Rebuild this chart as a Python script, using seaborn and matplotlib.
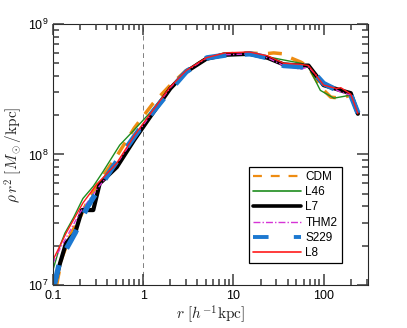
import matplotlib
matplotlib.use("Agg")
import matplotlib.pyplot as plt
import seaborn as sns
import pandas as pd


#---------- Data ----------
r_cdm = [0.11, 0.125, 0.16, 0.2, 0.25, 0.33, 0.5, 0.8, 1.28, 2.0, 3.0, 5.0, 8.0, 15.0, 22.0, 28.0, 36.0, 43.0, 56.0, 68.0, 92.0, 120.0, 155.0, 200.0, 240.0]
v_cdm = [1.0e7, 1.6e7, 2.5e7, 3.3e7, 4.6e7, 6.3e7, 9.5e7, 1.6e8, 2.45e8, 3.4e8, 4.4e8, 5.4e8, 5.9e8, 6.0e8, 5.9e8, 6.0e8, 5.9e8, 5.5e8, 5.1e8, 4.7e8, 3.3e8, 2.75e8, 2.7e8, 2.85e8, 2.08e8]

r_l46 = [0.1, 0.12, 0.136, 0.17, 0.215, 0.28, 0.36, 0.55, 0.8, 1.2, 2.0, 3.0, 5.0, 8.0, 15.0, 24.0, 36.0, 56.0, 68.0, 92.0, 130.0, 200.0, 240.0]
v_l46 = [1.3e7, 2.0e7, 2.5e7, 3.3e7, 4.6e7, 5.7e7, 7.4e7, 1.18e8, 1.55e8, 2.1e8, 3.3e8, 4.4e8, 5.5e8, 6.0e8, 6.0e8, 5.6e8, 5.3e8, 5.0e8, 4.7e8, 3.1e8, 2.7e8, 2.85e8, 2.1e8]

r_l7 = [0.1, 0.105, 0.12, 0.14, 0.176, 0.21, 0.28, 0.33, 0.51, 0.8, 1.2, 2.0, 3.0, 5.0, 8.0, 15.0, 24.0, 36.0, 56.0, 68.0, 100.0, 155.0, 200.0, 240.0]
v_l7 = [1.0e7, 1.04e7, 1.47e7, 2.1e7, 2.5e7, 3.75e7, 3.75e7, 6.0e7, 8.0e7, 1.3e8, 1.95e8, 3.2e8, 4.3e8, 5.4e8, 5.8e8, 5.9e8, 5.5e8, 4.9e8, 4.8e8, 4.8e8, 3.4e8, 3.1e8, 2.95e8, 2.05e8]

r_thm2 = [0.1, 0.12, 0.15, 0.2, 0.3, 0.5, 0.8, 1.2, 2.0, 3.0, 5.0, 8.0, 15.0, 24.0, 36.0, 56.0, 68.0, 100.0, 155.0, 200.0, 240.0]
v_thm2 = [1.47e7, 1.9e7, 2.5e7, 3.6e7, 5.3e7, 8.3e7, 1.35e8, 2.0e8, 3.25e8, 4.35e8, 5.45e8, 5.8e8, 5.9e8, 5.5e8, 4.8e8, 4.5e8, 4.7e8, 3.5e8, 3.0e8, 2.85e8, 2.08e8]

r_s229 = [0.1, 0.105, 0.12, 0.176, 0.238, 0.33, 0.46, 0.93, 1.2, 2.15, 3.0, 5.1, 8.6, 15.5, 24.0, 36.0, 56.0, 68.0, 100.0, 155.0, 200.0, 240.0]
v_s229 = [1.0e7, 1.04e7, 1.55e7, 2.5e7, 3.9e7, 5.6e7, 8.0e7, 1.59e8, 2.0e8, 3.3e8, 4.3e8, 5.5e8, 5.8e8, 5.9e8, 5.5e8, 4.8e8, 4.7e8, 4.7e8, 3.5e8, 3.0e8, 2.85e8, 2.08e8]

r_l8 = [0.1, 0.14, 0.215, 0.3, 0.51, 0.8, 1.2, 2.0, 3.0, 5.0, 8.0, 15.0, 24.0, 36.0, 56.0, 68.0, 100.0, 140.0, 155.0, 200.0, 240.0]
v_l8 = [1.55e7, 2.5e7, 4.25e7, 5.8e7, 8.6e7, 1.4e8, 2.05e8, 3.3e8, 4.4e8, 5.5e8, 6.0e8, 6.1e8, 5.7e8, 5.0e8, 4.9e8, 4.8e8, 3.4e8, 3.2e8, 3.25e8, 2.9e8, 2.05e8]

labels = ["CDM", "L46", "L7", "THM2", "S229", "L8"]
radii = [r_cdm, r_l46, r_l7, r_thm2, r_s229, r_l8]
values = [v_cdm, v_l46, v_l7, v_thm2, v_s229, v_l8]

#---------- Styles ----------
colors = ["#EE8C12", "#1E8C1E", "#000000", "#D633D6", "#1C78D0", "#FF1A1A"]
widths = [2.5, 1.0, 3.0, 1.0, 3.8, 1.0]
leg_widths = [1.6, 1.2, 2.6, 1.0, 2.8, 1.2]
dashes = [(4, 3), None, None, (4, 1.5, 1, 1.5), (4, 3.5), None]
leg_dashes = [(4, 4), None, None, (5, 1.5, 1, 1.5), (4, 6.5), None]

sns.set_style("ticks")
plt.rcParams["font.family"] = ["Liberation Sans", "DejaVu Sans"]
plt.rcParams["mathtext.fontset"] = "cm"

fig, ax = plt.subplots(figsize=(4.07, 3.28), dpi=100)
fig.subplots_adjust(left=0.130, right=0.904, bottom=0.131, top=0.927)

ax.axvline(1, color="gray", lw=0.7, ls=(0, (5, 4)), zorder=1)

for lab, rr, vv, c, w, d in zip(labels, radii, values, colors, widths, dashes):
    df = pd.DataFrame({"r": rr, "v": vv})
    sns.lineplot(x="r", y="v", data=df, ax=ax, color=c, lw=w,
                 sort=False, estimator=None, label=lab)
    if d is not None:
        ax.lines[-1].set_dashes(d)

ax.set_xscale("log")
ax.set_yscale("log")
ax.set_xlim(0.1, 310)
ax.set_ylim(1e7, 1e9)
ax.set_xticks([0.1, 1, 10, 100])
ax.set_xticklabels(["0.1", "1", "10", "100"])

ax.set_xlabel(r"$r\ [h^{-1}{\rm kpc}]$", fontsize=11, labelpad=1)
ax.set_ylabel(r"$\rho\, r^2\ [M_\odot/{\rm kpc}]$", fontsize=11, labelpad=2)

leg = ax.legend(loc="lower right", bbox_to_anchor=(0.935, 0.06), fontsize=8.5,
                frameon=True, fancybox=False, edgecolor="black", framealpha=1,
                handlelength=4.0, handletextpad=0.4, labelspacing=0.28, borderpad=0.35)
leg.get_frame().set_linewidth(0.9)
for h, lw, d in zip(leg.get_lines(), leg_widths, leg_dashes):
    h.set_linewidth(lw)
    if d is not None:
        h.set_dashes(d)
for t in leg.get_texts():
    t.set_color("black")

# ticks last, inward on all four sides
ax.tick_params(which="both", direction="in", top=True, right=True, labelsize=9,
               color="#3a3a3a", labelcolor="black")
ax.tick_params(which="major", length=8, width=1.1)
ax.tick_params(which="minor", length=4.5, width=1.1)
ax.set_axisbelow(False)
fig.canvas.draw()
for axis in (ax.xaxis, ax.yaxis):
    for tk in axis.get_major_ticks() + axis.get_minor_ticks():
        tk.tick1line.set_visible(True)
        tk.tick2line.set_visible(True)
        tk.tick1line.set_zorder(5)
        tk.tick2line.set_zorder(5)

plt.savefig("out.png", dpi=100)
